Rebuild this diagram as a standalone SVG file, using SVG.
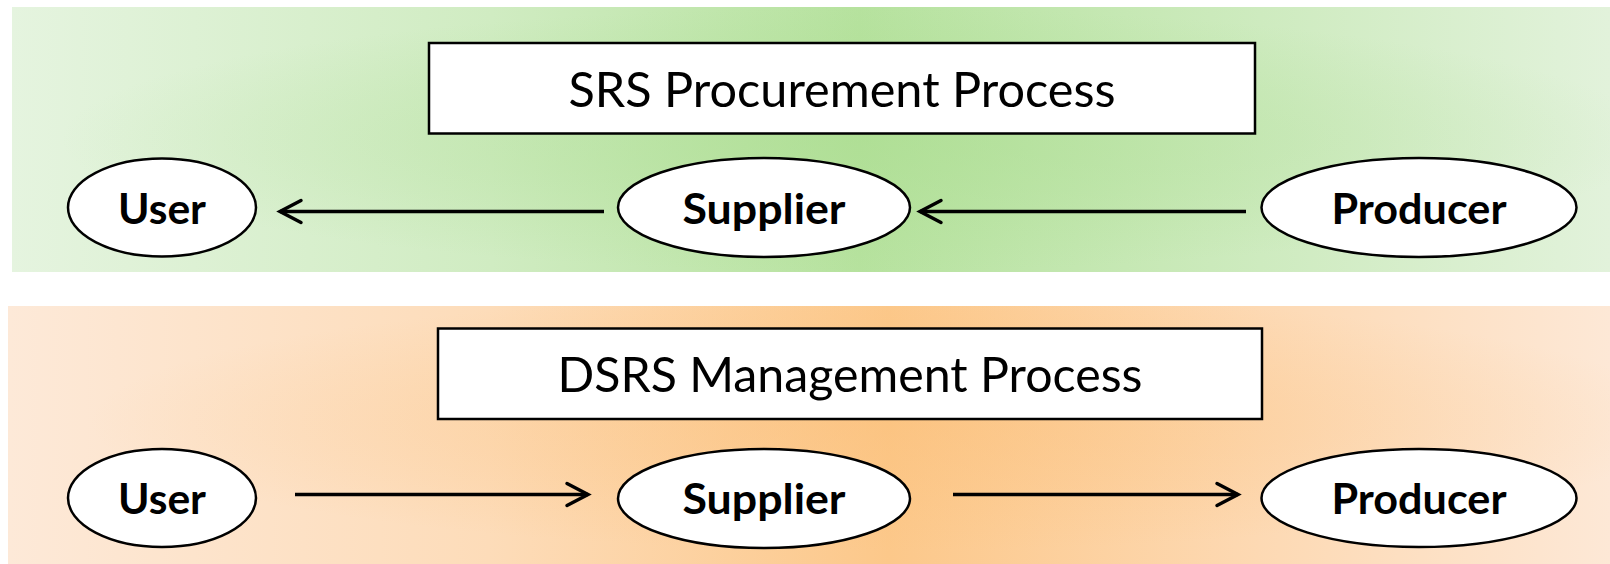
<svg xmlns="http://www.w3.org/2000/svg" width="1610" height="564" viewBox="0 0 1610 564">
  <style>
    .node { fill: #ffffff; stroke: #000000; stroke-width: 2.5; }
    .title { font-family: Lato, "Liberation Sans", sans-serif; font-size: 48px; fill: #000000; text-anchor: middle; }
    .label { font-family: Lato, "Liberation Sans", sans-serif; font-size: 42px; font-weight: bold; fill: #000000; text-anchor: middle; }
    .conn { stroke: #000000; stroke-width: 3.5; fill: none; }
  </style>
  <defs>
    <linearGradient id="gGreen" x1="0" y1="0" x2="1" y2="0">
      <stop offset="0" stop-color="#e5f4df"/>
      <stop offset="0.3" stop-color="#d0ecc2"/>
      <stop offset="0.53" stop-color="#b6e29e"/>
      <stop offset="0.75" stop-color="#cbeabb"/>
      <stop offset="1" stop-color="#e2f2db"/>
    </linearGradient>
    <radialGradient id="gGreenGlow" cx="0.53" cy="0.5" r="0.5">
      <stop offset="0" stop-color="#a9dc8d" stop-opacity="0.5"/>
      <stop offset="1" stop-color="#a9dc8d" stop-opacity="0"/>
    </radialGradient>
    <linearGradient id="gOrange" x1="0" y1="0" x2="1" y2="0">
      <stop offset="0" stop-color="#fde9d8"/>
      <stop offset="0.3" stop-color="#fddcb9"/>
      <stop offset="0.55" stop-color="#fcc88a"/>
      <stop offset="0.78" stop-color="#fdd9b3"/>
      <stop offset="1" stop-color="#fde8d6"/>
    </linearGradient>
    <radialGradient id="gOrangeGlow" cx="0.55" cy="0.45" r="0.5">
      <stop offset="0" stop-color="#fbbf78" stop-opacity="0.45"/>
      <stop offset="1" stop-color="#fbbf78" stop-opacity="0"/>
    </radialGradient>
    <marker id="arrow" markerUnits="userSpaceOnUse" markerWidth="28" markerHeight="28" viewBox="0 0 28 28" refX="24" refY="14" orient="auto">
      <path d="M 3,3 L 24,14 L 3,25" fill="none" stroke="#000000" stroke-width="3.5" stroke-linecap="round" stroke-linejoin="miter"/>
    </marker>
  </defs>

  <g id="bands">
    <rect id="band-srs" x="12" y="7" width="1598" height="265" fill="url(#gGreen)"/>
    <rect x="12" y="7" width="1598" height="265" fill="url(#gGreenGlow)"/>
    <rect id="band-dsrs" x="8" y="306" width="1602" height="258" fill="url(#gOrange)"/>
    <rect x="8" y="306" width="1602" height="258" fill="url(#gOrangeGlow)"/>
  </g>

  <g id="title-srs">
    <rect x="429" y="43" width="826" height="90.5" class="node"/>
    <text x="842" y="107" class="title" textLength="547" lengthAdjust="spacingAndGlyphs">SRS Procurement Process</text>
  </g>
  <g id="title-dsrs">
    <rect x="438" y="328.5" width="824" height="90.5" class="node"/>
    <text x="850" y="392" class="title" textLength="585" lengthAdjust="spacingAndGlyphs">DSRS Management Process</text>
  </g>

  <g id="connectors">
    <line x1="604" y1="211.5" x2="280" y2="211.5" class="conn" marker-end="url(#arrow)"/>
    <line x1="1246" y1="211.5" x2="920" y2="211.5" class="conn" marker-end="url(#arrow)"/>
    <line x1="295" y1="494.5" x2="588" y2="494.5" class="conn" marker-end="url(#arrow)"/>
    <line x1="953" y1="494.5" x2="1238" y2="494.5" class="conn" marker-end="url(#arrow)"/>
  </g>

  <g id="srs-user">
    <ellipse cx="162" cy="207.5" rx="94" ry="49" class="node"/>
    <text x="162" y="223.5" class="label" textLength="88" lengthAdjust="spacingAndGlyphs">User</text>
  </g>
  <g id="srs-supplier">
    <ellipse cx="764" cy="207.5" rx="146" ry="49.5" class="node"/>
    <text x="764" y="223.5" class="label" textLength="163" lengthAdjust="spacingAndGlyphs">Supplier</text>
  </g>
  <g id="srs-producer">
    <ellipse cx="1419" cy="207.5" rx="157.5" ry="49.5" class="node"/>
    <text x="1419" y="223.5" class="label" textLength="175" lengthAdjust="spacingAndGlyphs">Producer</text>
  </g>

  <g id="dsrs-user">
    <ellipse cx="162" cy="498" rx="94" ry="49" class="node"/>
    <text x="162" y="514" class="label" textLength="88" lengthAdjust="spacingAndGlyphs">User</text>
  </g>
  <g id="dsrs-supplier">
    <ellipse cx="764" cy="498.5" rx="146" ry="49.5" class="node"/>
    <text x="764" y="514" class="label" textLength="163" lengthAdjust="spacingAndGlyphs">Supplier</text>
  </g>
  <g id="dsrs-producer">
    <ellipse cx="1419" cy="498" rx="157.5" ry="49" class="node"/>
    <text x="1419" y="514" class="label" textLength="175" lengthAdjust="spacingAndGlyphs">Producer</text>
  </g>
</svg>
